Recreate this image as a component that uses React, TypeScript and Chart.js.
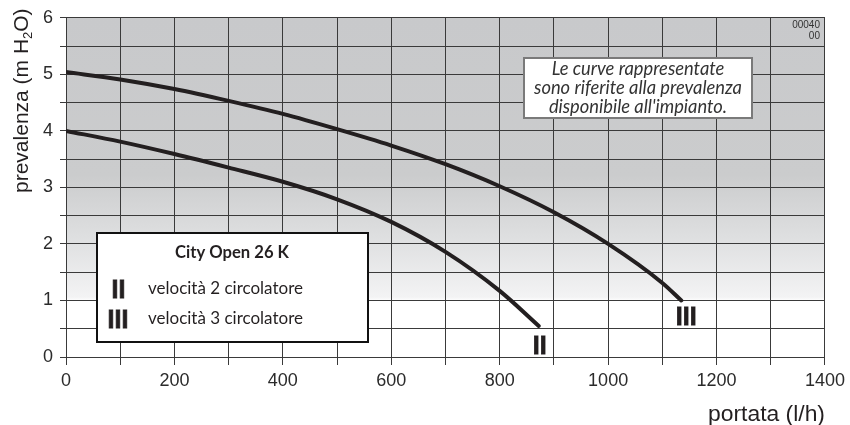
import React, { useEffect, useRef } from 'react';
import { Chart, registerables } from 'chart.js';

Chart.register(...registerables);

// ---- data ----
const flowSpeed3 = [0, 100, 200, 300, 400, 500, 600, 700, 800, 900, 1000, 1100, 1135];
const headSpeed3 = [5.04, 4.91, 4.74, 4.53, 4.3, 4.03, 3.74, 3.41, 3.02, 2.56, 2.0, 1.31, 1.0];
const flowSpeed2 = [0, 100, 200, 300, 400, 500, 600, 700, 800, 872];
const headSpeed2 = [4.0, 3.81, 3.59, 3.35, 3.1, 2.79, 2.39, 1.86, 1.17, 0.55];

const xTickLabels = [0, 200, 400, 600, 800, 1000, 1200, 1400];
const yTickLabels = [0, 1, 2, 3, 4, 5, 6];

const seriesMarks = ['II', 'III'];
const seriesNames = ['velocità 2 circolatore', 'velocità 3 circolatore'];
const legendTitle = 'City Open 26 K';
const noteLines = ['Le curve rappresentate', 'sono riferite alla prevalenza', "disponibile all'impianto."];
const codeLines = ['00040', '00'];
const xTitle = 'portata (l/h)';
const yTitleParts = ['prevalenza (m H', '2', 'O)'];

// curve-end mark anchors (data coordinates)
const markAnchorsX = [874, 1144];
const markAnchorsY = [0.22, 0.72];

const GRID = '#3a3a3a';
const INK = '#231f20';
const TICK_FONT = "'Liberation Sans', Arial, sans-serif";
const SANS = "'Liberation Sans', Arial, sans-serif";
const HUMAN = "Lato, 'Open Sans', sans-serif";

function fit(ctx: CanvasRenderingContext2D, text: string, tpl: (s: number) => string, target: number) {
  ctx.font = tpl(100);
  const w = ctx.measureText(text).width;
  return (100 * target) / w;
}

function drawMark(ctx: CanvasRenderingContext2D, text: string, cx: number, cy: number) {
  const size = 25;
  ctx.save();
  ctx.font = `bold ${size}px ${SANS}`;
  ctx.textAlign = 'center';
  ctx.textBaseline = 'alphabetic';
  ctx.fillStyle = INK;
  ctx.strokeStyle = INK;
  ctx.lineWidth = 0.8;
  const base = cy + (size * 0.716) / 2;
  ctx.fillText(text, cx, base);
  ctx.strokeText(text, cx, base);
  ctx.restore();
}

const decorPlugin = {
  id: 'decor',
  beforeDraw(chart: any) {
    const { ctx, chartArea } = chart;
    const { left, right, top, bottom } = chartArea;
    const f = (py: number) => Math.min(1, Math.max(0, (py - top) / (bottom - top)));
    const g = ctx.createLinearGradient(0, top, 0, bottom);
    g.addColorStop(0, '#c8c9cb');
    g.addColorStop(f(175), '#cbcccd');
    g.addColorStop(f(240), '#dfe0e1');
    g.addColorStop(f(297), '#f3f3f4');
    g.addColorStop(f(301), '#ffffff');
    g.addColorStop(1, '#ffffff');
    ctx.save();
    ctx.fillStyle = g;
    ctx.fillRect(left, top, right - left, bottom - top);
    ctx.restore();
  },
  afterDraw(chart: any) {
    const { ctx, chartArea, scales } = chart;
    const xs = scales.x;
    const ys = scales.y;
    ctx.save();

    // code in top-right cell
    ctx.font = `10px ${SANS}`;
    ctx.fillStyle = '#333';
    ctx.textAlign = 'right';
    ctx.textBaseline = 'middle';
    ctx.fillText(codeLines[0], chartArea.right - 5, 25);
    ctx.fillText(codeLines[1], chartArea.right - 5, 36);

    // note box
    ctx.fillStyle = '#ffffff';
    ctx.fillRect(524, 58, 228, 60);
    ctx.strokeStyle = '#7a7a7a';
    ctx.lineWidth = 2;
    ctx.strokeRect(524, 58, 228, 60);
    const noteSize = fit(ctx, noteLines[1], (s) => `italic ${s}px ${HUMAN}`, 208);
    ctx.font = `italic ${noteSize}px ${HUMAN}`;
    ctx.fillStyle = '#333333';
    ctx.textAlign = 'center';
    ctx.textBaseline = 'middle';
    const noteY = [69.5, 88.5, 107.5];
    noteLines.forEach((t, i) => ctx.fillText(t, 638, noteY[i]));

    // legend box
    ctx.fillStyle = '#ffffff';
    ctx.fillRect(97, 233, 271, 109);
    ctx.strokeStyle = '#111111';
    ctx.lineWidth = 2;
    ctx.strokeRect(97, 233, 271, 109);
    const tSize = fit(ctx, legendTitle, (s) => `bold ${s}px ${HUMAN}`, 114);
    ctx.font = `bold ${tSize}px ${HUMAN}`;
    ctx.fillStyle = INK;
    ctx.textAlign = 'center';
    ctx.fillText(legendTitle, 232, 253);
    const lSize = fit(ctx, seriesNames[0], (s) => `${s}px ${HUMAN}`, 155);
    ctx.font = `${lSize}px ${HUMAN}`;
    ctx.textAlign = 'left';
    const rowY = [289, 319];
    seriesNames.forEach((t, i) => ctx.fillText(t, 148, rowY[i]));
    drawMark(ctx, seriesMarks[0], 118.5, 289.5);
    drawMark(ctx, seriesMarks[1], 118, 319);

    // curve end marks
    seriesMarks.forEach((m, i) => {
      drawMark(ctx, m, xs.getPixelForValue(markAnchorsX[i]), ys.getPixelForValue(markAnchorsY[i]));
    });

    // x title
    const xtSize = fit(ctx, xTitle, (s) => `${s}px ${SANS}`, 117);
    ctx.font = `${xtSize}px ${SANS}`;
    ctx.fillStyle = INK;
    ctx.textAlign = 'right';
    ctx.textBaseline = 'alphabetic';
    ctx.fillText(xTitle, chartArea.right, 421);

    // y title with subscript
    const ySize = 21;
    const subSize = 13;
    ctx.translate(28, 193);
    ctx.rotate(-Math.PI / 2);
    ctx.textAlign = 'left';
    ctx.font = `${ySize}px ${SANS}`;
    let x = 0;
    ctx.fillText(yTitleParts[0], x, 0);
    x += ctx.measureText(yTitleParts[0]).width;
    ctx.font = `${subSize}px ${SANS}`;
    ctx.fillText(yTitleParts[1], x, 4);
    x += ctx.measureText(yTitleParts[1]).width;
    ctx.font = `${ySize}px ${SANS}`;
    ctx.fillText(yTitleParts[2], x, 0);

    ctx.restore();
  },
};

export default function App() {
  const ref = useRef<HTMLCanvasElement>(null);
  useEffect(() => {
    if (!ref.current) return;
    const toPts = (xs: number[], ys: number[]) => xs.map((x, i) => ({ x, y: ys[i] }));
    const chart = new Chart(ref.current, {
      type: 'line',
      data: {
        datasets: [
          {
            label: seriesNames[0],
            data: toPts(flowSpeed2, headSpeed2),
            borderColor: INK,
            borderWidth: 4,
            pointRadius: 0,
            cubicInterpolationMode: 'monotone',
            borderCapStyle: 'round',
            fill: false,
          },
          {
            label: seriesNames[1],
            data: toPts(flowSpeed3, headSpeed3),
            borderColor: INK,
            borderWidth: 4,
            pointRadius: 0,
            cubicInterpolationMode: 'monotone',
            borderCapStyle: 'round',
            fill: false,
          },
        ],
      },
      options: {
        responsive: false,
        animation: false,
        layout: { padding: { top: 16, right: 23, left: 0, bottom: 0 } },
        plugins: { legend: { display: false }, tooltip: { enabled: false } },
        scales: {
          x: {
            type: 'linear',
            min: 0,
            max: 1400,
            border: { display: true, color: GRID, width: 1 },
            grid: { color: GRID, lineWidth: 1, tickLength: 8, drawTicks: true },
            ticks: {
              stepSize: 100,
              autoSkip: false,
              maxRotation: 0,
              padding: 5,
              color: '#2b2b2b',
              font: { family: TICK_FONT, size: 18 },
              callback: (v: any) => (xTickLabels.includes(Number(v)) ? String(v) : ''),
            },
            afterFit: (s: any) => {
              s.height = 68;
            },
          },
          y: {
            type: 'linear',
            min: 0,
            max: 6,
            border: { display: true, color: GRID, width: 1 },
            grid: { color: GRID, lineWidth: 1, tickLength: 6, drawTicks: true },
            ticks: {
              stepSize: 0.5,
              padding: 7,
              color: '#2b2b2b',
              font: { family: TICK_FONT, size: 18 },
              callback: (v: any) => (yTickLabels.includes(Number(v)) ? String(v) : ''),
            },
            afterFit: (s: any) => {
              s.width = 66;
            },
          },
        },
      },
      plugins: [decorPlugin],
    } as any);
    return () => chart.destroy();
  }, []);
  return (
    <div style={{ position: 'fixed', left: 0, top: 0, width: 850, height: 425, background: '#fff' }}>
      <canvas ref={ref} width={850} height={425} />
    </div>
  );
}
